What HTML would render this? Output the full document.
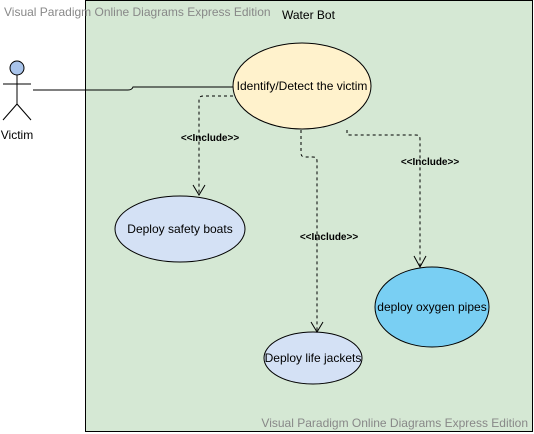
<!DOCTYPE html><html><head><style>body{margin:0;background:#fff}svg{display:block}text{font-family:"Liberation Sans",sans-serif}</style></head><body>
<svg width="534" height="434" xmlns="http://www.w3.org/2000/svg">
<rect x="85.5" y="0.5" width="447" height="431" fill="#d5e8d4" stroke="#000"/>
<text x="4" y="16" font-size="12" fill="#888">Visual Paradigm Online Diagrams Express Edition</text>
<text x="282" y="19" font-size="12" fill="#000">Water Bot</text>
<text x="528" y="427" font-size="12" fill="#888" text-anchor="end">Visual Paradigm Online Diagrams Express Edition</text>
<g stroke="#000" fill="none">
<circle cx="17" cy="68" r="7" fill="#a9c4eb"/>
<line x1="17" y1="75" x2="17" y2="104"/><line x1="3" y1="84" x2="31" y2="84"/>
<line x1="17" y1="104" x2="3" y2="120"/><line x1="17" y1="104" x2="31" y2="120"/>
<path d="M33 90 H128 Q132 90 133 87 H233"/>
<ellipse cx="302" cy="86" rx="69" ry="43" fill="#fff2cc"/>
<ellipse cx="180" cy="229" rx="65" ry="33" fill="#d4e1f5"/>
<ellipse cx="313" cy="358" rx="49" ry="26" fill="#d4e1f5"/>
<ellipse cx="432" cy="307" rx="57" ry="40" fill="#79cff3"/>
<g stroke-dasharray="3,3">
<path d="M233 96 H203 Q199 96 199 100 V195"/>
<path d="M301 130 V153 Q301 157 305 157 H313 Q317 157 317 161 V331"/>
<path d="M347 130 V134 Q347 135 350 135 H416 Q420 135 420 139 V266"/>
</g>
<path d="M193 185 L199 195 L205 185 M311 322 L317 332 L323 322 M414 256 L420 267 L426 256"/>
</g>
<g font-size="12" text-anchor="middle" fill="#000">
<text x="302" y="90">Identify/Detect the victim</text>
<text x="180" y="233">Deploy safety boats</text>
<text x="313" y="362">Deploy life jackets</text>
<text x="432" y="311">deploy oxygen pipes</text>
<text x="17" y="139">Victim</text>
</g>
<g font-size="10" text-anchor="middle" fill="#000" font-weight="bold">
<text x="210" y="141">&lt;&lt;Include&gt;&gt;</text>
<text x="329" y="240">&lt;&lt;Include&gt;&gt;</text>
<text x="430" y="165">&lt;&lt;Include&gt;&gt;</text>
</g>
</svg></body></html>
